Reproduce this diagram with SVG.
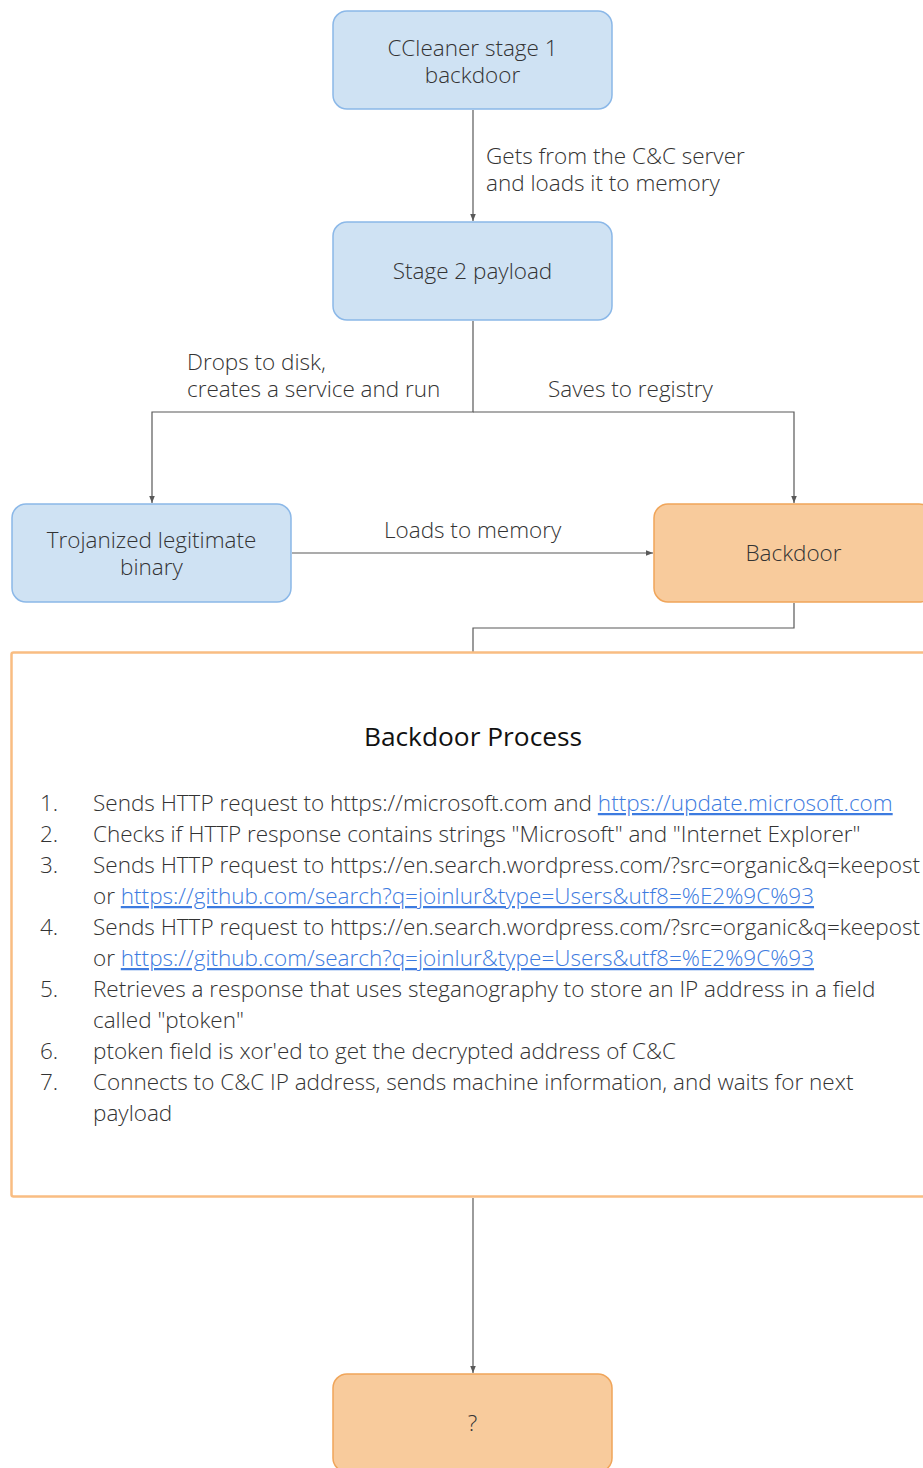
<svg xmlns="http://www.w3.org/2000/svg" width="923" height="1468" viewBox="0 0 923 1468">
<style>
.blue{fill:#cfe2f3;stroke:#8bb8e8;stroke-width:1.5}
.orange{fill:#f8cb9c;stroke:#f0a55a;stroke-width:1.5}
.t{font-family:"Open Sans","Noto Sans","Liberation Sans",sans-serif;font-size:22.5px;font-weight:300;fill:#333}
.c{text-anchor:middle}
.lnk{fill:#3d7be0;text-decoration:underline}
.conn{fill:none;stroke:#595959;stroke-width:1.2}
</style>
<defs>
<marker id="ah" viewBox="0 0 10 10" refX="10" refY="5" markerWidth="7" markerHeight="7" markerUnits="userSpaceOnUse" orient="auto">
<path d="M0,1 L10,5 L0,9 z" fill="#595959"/>
</marker>
</defs>
<rect width="923" height="1468" fill="#fff"/>
<g id="connectors">
<path class="conn" d="M473,110 V221" marker-end="url(#ah)"/>
<path class="conn" d="M473,321 V412 H152 V503" marker-end="url(#ah)"/>
<path class="conn" d="M473,412 H794 V503" marker-end="url(#ah)"/>
<path class="conn" d="M292,553 H653" marker-end="url(#ah)"/>
<path class="conn" d="M794,603 V628 H473 V652"/>
<path class="conn" d="M473,1198 V1373" marker-end="url(#ah)"/>
<text class="t" x="486" y="164">Gets from the C&amp;C server</text>
<text class="t" x="486" y="191">and loads it to memory</text>
<text class="t" x="187" y="370">Drops to disk,</text>
<text class="t" x="187" y="397">creates a service and run</text>
<text class="t" x="548" y="397">Saves to registry</text>
<text class="t" x="384" y="538">Loads to memory</text>
</g>
<g id="stage1">
<rect class="blue" x="333" y="11" width="279" height="98" rx="14"/>
<text class="t c" x="472.5" y="56">CCleaner stage 1</text>
<text class="t c" x="472.5" y="83">backdoor</text>
</g>
<g id="stage2">
<rect class="blue" x="333" y="222" width="279" height="98" rx="14"/>
<text class="t c" x="472.5" y="279">Stage 2 payload</text>
</g>
<g id="trojanized">
<rect class="blue" x="12" y="504" width="279" height="98" rx="14"/>
<text class="t c" x="151.5" y="548">Trojanized legitimate</text>
<text class="t c" x="151.5" y="575">binary</text>
</g>
<g id="backdoor">
<rect class="orange" x="654" y="504" width="279" height="98" rx="14"/>
<text class="t c" x="793.5" y="561">Backdoor</text>
</g>
<g id="process">
<rect x="11.5" y="652.5" width="930" height="544" rx="2" fill="#fff" stroke="#f9bd82" stroke-width="2.5"/>
<text class="t c" x="473" y="746" style="font-size:26.3px;font-weight:400;fill:#111">Backdoor Process</text>
<g class="t">
<text x="40" y="811">1.</text>
<text x="93" y="811">Sends HTTP request to https://microsoft.com and <tspan class="lnk">https://update.microsoft.com</tspan></text>
<text x="40" y="842">2.</text>
<text x="93" y="842">Checks if HTTP response contains strings "Microsoft" and "Internet Explorer"</text>
<text x="40" y="873">3.</text>
<text x="93" y="873">Sends HTTP request to https://en.search.wordpress.com/?src=organic&amp;q=keepost</text>
<text x="93" y="904">or <tspan class="lnk">https://github.com/search?q=joinlur&amp;type=Users&amp;utf8=%E2%9C%93</tspan></text>
<text x="40" y="935">4.</text>
<text x="93" y="935">Sends HTTP request to https://en.search.wordpress.com/?src=organic&amp;q=keepost</text>
<text x="93" y="966">or <tspan class="lnk">https://github.com/search?q=joinlur&amp;type=Users&amp;utf8=%E2%9C%93</tspan></text>
<text x="40" y="997">5.</text>
<text x="93" y="997">Retrieves a response that uses steganography to store an IP address in a field</text>
<text x="93" y="1028">called "ptoken"</text>
<text x="40" y="1059">6.</text>
<text x="93" y="1059">ptoken field is xor'ed to get the decrypted address of C&amp;C</text>
<text x="40" y="1090">7.</text>
<text x="93" y="1090">Connects to C&amp;C IP address, sends machine information, and waits for next</text>
<text x="93" y="1121">payload</text>
</g>
</g>
<g id="unknown">
<rect class="orange" x="333" y="1374" width="279" height="98" rx="14"/>
<text class="t c" x="472.5" y="1431">?</text>
</g>
</svg>
